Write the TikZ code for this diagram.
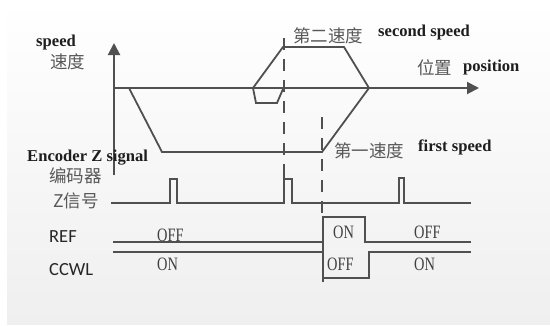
\documentclass[tikz,border=0pt]{standalone}
\usepackage{fontspec}
\setmainfont{Liberation Serif}
\newfontfamily\cjkf{Noto Sans CJK SC}
\newfontfamily\carl{Carlito}
\usetikzlibrary{arrows.meta}
\definecolor{lnc}{HTML}{505050}
\definecolor{cjkc}{HTML}{585858}
\definecolor{engc}{HTML}{1E1E1E}
\definecolor{bgbot}{HTML}{EFEFEF}
\begin{document}
\begin{tikzpicture}[x=1pt,y=-1pt,
  sig/.style={draw=lnc, line width=1.8pt, line join=miter},
  axis/.style={draw=lnc, line width=2pt, -{Triangle[length=12pt,width=12pt]}},
  dsh/.style={draw=lnc, line width=1.8pt, dash pattern=on 12pt off 9pt},
  eng/.style={font=\fontsize{16.6}{18}\selectfont\bfseries, text=engc, inner sep=0pt, anchor=base west},
  cjk/.style={font=\fontsize{17.5}{20}\selectfont\cjkf, text=cjkc, inner sep=0pt},
  sans/.style={font=\fontsize{18.5}{20}\selectfont\carl, text=black!85, inner sep=0pt, anchor=base west},
  onoff/.style={font=\fontsize{18}{20}\selectfont, text=black!75, inner sep=0pt, anchor=base west, xscale=0.8, yscale=1.05}]
\useasboundingbox (0,0) rectangle (550,325);
\shade[top color=white, bottom color=bgbot] (7,0) rectangle (550,324);
% axes
\coordinate (yb) at (114,175);
\coordinate (yt) at (114,43);
\coordinate (xl) at (114,88);
\coordinate (xr) at (479,88);
\draw[axis] (yb) -- (yt);
\draw[axis] (xl) -- (xr);
% speed profile
\coordinate (s0) at (129,88);
\coordinate (s1) at (162,152);
\coordinate (s2) at (322,152);
\coordinate (s3) at (369,88);
\coordinate (s4) at (344,47);
\coordinate (s5) at (283,47);
\coordinate (s6) at (253,88);
\coordinate (s7) at (256,103);
\coordinate (s8) at (277,103);
\coordinate (s9) at (283,89);
\draw[sig] (s0) -- (s1) -- (s2) -- (s3) -- (s4) -- (s5) -- (s6) -- (s7) -- (s8) -- (s9);
% dashed markers
\coordinate (d1t) at (284,38);
\coordinate (d1b) at (284,165);
\coordinate (d2t) at (322,117);
\coordinate (d2b) at (322,217);
\draw[dsh] (d1t) -- (d1b);
\draw[dsh] (d2t) -- (d2b);
% Z signal
\coordinate (z0) at (111,203);
\coordinate (z1) at (471,203);
\draw[sig] (z0) -- (170,203) -- (170,179) -- (177,179) -- (177,203)
  -- (284,203) -- (284,179) -- (292,179) -- (292,203)
  -- (399,203) -- (399,178) -- (404,178) -- (404,203) -- (z1);
\draw[sig] (d1b) -- (284,179);
% REF
\coordinate (r0) at (113,242);
\coordinate (r1) at (471,242);
\draw[sig] (r0) -- (323,242) -- (323,217) -- (365,217) -- (365,242) -- (r1);
% CCWL
\coordinate (c0) at (113,252);
\coordinate (c1) at (471,252);
\draw[sig] (c0) -- (323,252) -- (323,278) -- (369,278) -- (369,252) -- (c1);
\draw[sig] (323,217) -- (323,282);
% labels
\node[eng] (lspeed) at (36,46) {speed};
\node[cjk] (lsd) at (67.5,62) {速度};
\node[cjk] (l2cn) at (328,36) {第二速度};
\node[eng] (l2en) at (378,36) {second speed};
\node[cjk] (lposcn) at (434.5,68) {位置};
\node[eng] (lposen) at (463,71) {position};
\node[cjk] (l1cn) at (369,151) {第一速度};
\node[eng] (l1en) at (418,151) {first speed};
\node[eng] (lenc) at (27,161.5) {Encoder Z signal};
\node[cjk] (lbm) at (75.5,176) {编码器};
\node[cjk] (lzx) at (76,201) {Z信号};
\node[sans] (lref) at (49,242) {REF};
\node[sans] (lccwl) at (49,275) {CCWL};
\node[onoff] (t1) at (157,241) {OFF};
\node[onoff] (t2) at (157,270) {ON};
\node[onoff] (t3) at (333,238) {ON};
\node[onoff] (t4) at (414,238) {OFF};
\node[onoff] (t5) at (327,270) {OFF};
\node[onoff] (t6) at (414,270) {ON};
\end{tikzpicture}
\end{document}
